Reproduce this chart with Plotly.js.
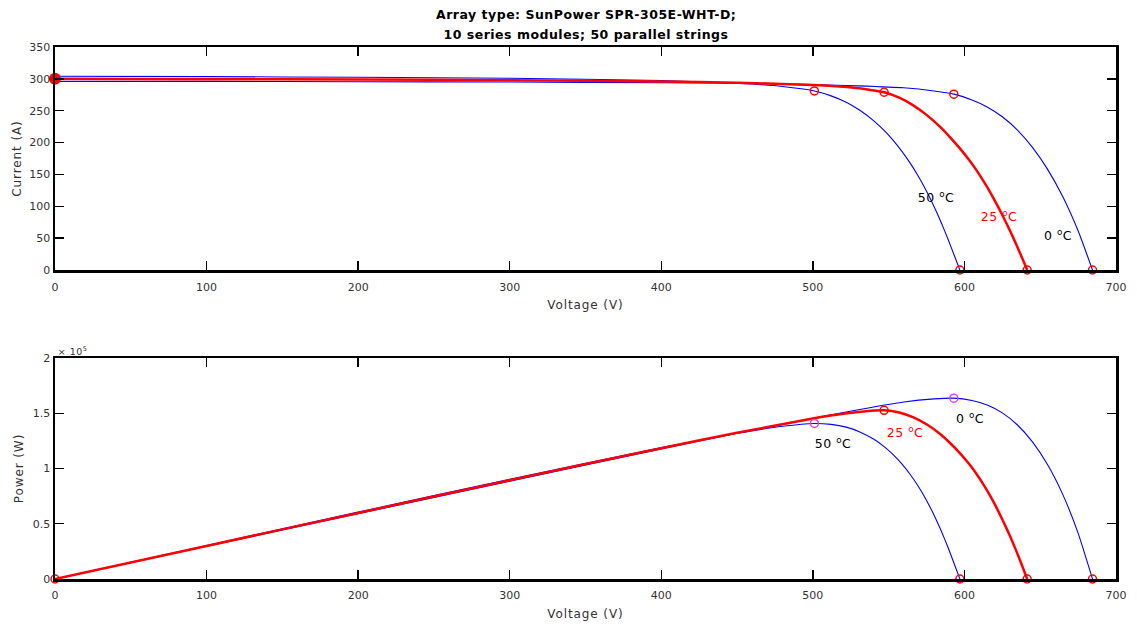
<!DOCTYPE html>
<html>
<head>
<meta charset="utf-8">
<script src="https://cdn.plot.ly/plotly-3.0.1.min.js"></script>
<style>
html,body{margin:0;padding:0;background:#fff;}
#chart{width:1137px;height:630px;}
#chart .annotation-text{letter-spacing:0.5px;}
#chart .xtitle,#chart .ytitle,#chart .x2title,#chart .y2title{letter-spacing:0.9px;}
</style>
</head>
<body>
<div id="chart"></div>
<script>
// I-V data (voltage in V, current in A)
const V50 = [0, 100, 200, 300, 400, 450, 480, 501, 512, 522, 531, 540, 547, 553, 559, 564, 569, 573, 577, 581, 585, 589, 593, 597];
const I50 = [304, 303.5, 302.5, 301, 297.5, 293, 288, 281, 273.3, 263.3, 250.7, 234.5, 219.1, 203.5, 185.5, 168.5, 149.5, 132.7, 114.3, 94.3, 72.7, 49.5, 24.7, 0];

const V25 = [0, 100, 200, 300, 400, 450, 500, 520, 535, 547, 557, 566, 575, 584, 591, 597, 603, 608, 613, 617, 621, 625.5, 630, 634, 638, 641.4];
const I25 = [300, 299.5, 299, 298, 296, 294, 290.5, 287.5, 283.8, 279, 270.5, 258.8, 243.5, 224.6, 207.1, 190.9, 172.9, 156.4, 137.9, 121.9, 104.7, 84, 62, 41.2, 19.2, 0];

const V0 = [0, 100, 200, 300, 400, 450, 500, 530, 560, 580, 593, 605, 615, 625, 635, 645, 655, 665, 675, 684.5];
const I0 = [296, 296, 295.5, 295, 294, 293, 291, 289, 286, 281, 276, 267, 256, 240.5, 219.5, 192, 157.5, 114.5, 61.5, 0];

// maximum power points and open-circuit voltages
const mppV = [501, 547, 593];
const mppI = [281, 279, 276];
const vocV = [597, 641.4, 684.5];
const iscI = 300;

const tempLabels = ['50 <sup>o</sup>C', '25 <sup>o</sup>C', '0 <sup>o</sup>C'];
const labelColors = ['#000000', '#ff0000', '#000000'];
const ivLabelV = [581, 623, 662];
const ivLabelI = [115, 84, 55];
const pLabelV = [513, 561, 604];
const pLabelP = [122800, 133300, 145400];

const xTicks = [0, 100, 200, 300, 400, 500, 600, 700];
const pTickVals = [0, 50000, 100000, 150000, 200000];
const pTickText = ['0', '0.5', '1', '1.5', '2'];

const mul = (v, i) => v.map((x, k) => x * i[k]);

const blue = '#0000ff', red = '#ff0000', mag = '#e040ff';
const spl = {shape: 'spline', smoothing: 0.5};

const traces = [
  {x: V0, y: I0, mode: 'lines', line: Object.assign({color: blue, width: 1.1}, spl), xaxis: 'x', yaxis: 'y', hoverinfo: 'skip'},
  {x: V50, y: I50, mode: 'lines', line: Object.assign({color: blue, width: 1.1}, spl), xaxis: 'x', yaxis: 'y', hoverinfo: 'skip'},
  {x: V25, y: I25, mode: 'lines', line: Object.assign({color: red, width: 2.5}, spl), xaxis: 'x', yaxis: 'y', hoverinfo: 'skip'},
  {x: mppV, y: mppI, mode: 'markers', marker: {symbol: 'circle-open', size: 8, color: red, line: {width: 1.5}}, xaxis: 'x', yaxis: 'y'},
  {x: vocV, y: [0, 0, 0], mode: 'markers', marker: {symbol: 'circle-open', size: 8, color: red, line: {width: 1.5}}, xaxis: 'x', yaxis: 'y', cliponaxis: false},
  {x: [0], y: [iscI], mode: 'markers', marker: {symbol: 'circle', size: 12, color: red}, xaxis: 'x', yaxis: 'y', cliponaxis: false},

  {x: V0, y: mul(V0, I0), mode: 'lines', line: Object.assign({color: blue, width: 1.1}, spl), xaxis: 'x2', yaxis: 'y2', hoverinfo: 'skip'},
  {x: V50, y: mul(V50, I50), mode: 'lines', line: Object.assign({color: blue, width: 1.1}, spl), xaxis: 'x2', yaxis: 'y2', hoverinfo: 'skip'},
  {x: V25, y: mul(V25, I25), mode: 'lines', line: Object.assign({color: red, width: 2.5}, spl), xaxis: 'x2', yaxis: 'y2', hoverinfo: 'skip'},
  {x: mppV, y: mul(mppV, mppI), mode: 'markers', marker: {symbol: 'circle-open', size: 8, color: [mag, red, mag], line: {width: 1.5}}, xaxis: 'x2', yaxis: 'y2'},
  {x: vocV.concat([0]), y: [0, 0, 0, 0], mode: 'markers', marker: {symbol: 'circle-open', size: 8, color: red, line: {width: 1.5}}, xaxis: 'x2', yaxis: 'y2', cliponaxis: false}
];

const fam = '"DejaVu Sans", Verdana, sans-serif';
const font = {family: fam, size: 11, color: '#333333'};
const titleFont = {family: fam, size: 12, color: '#333333'};
const axisBase = {
  showline: true, linecolor: '#000', linewidth: 2.5, mirror: 'ticks',
  ticks: 'inside', ticklen: 9, tickwidth: 1.5, tickcolor: '#000',
  showgrid: false, zeroline: false, tickfont: font, automargin: false
};

const annotations = [
  {text: '<b>Array type: SunPower SPR-305E-WHT-D;</b>', xref: 'paper', yref: 'paper', x: 0.5, y: 1.0602, showarrow: false, font: {family: fam, size: 12.5, color: '#000'}, yanchor: 'middle'},
  {text: '<b>10 series modules; 50 parallel strings</b>', xref: 'paper', yref: 'paper', x: 0.5, y: 1.0226, showarrow: false, font: {family: fam, size: 12.5, color: '#000'}, yanchor: 'middle'},
  {text: '× 10<sup>5</sup>', xref: 'paper', yref: 'paper', x: 0.002, y: 0.4286, xanchor: 'left', yanchor: 'middle', showarrow: false, font: {family: fam, size: 9.5, color: '#333333'}}
];
for (let k = 0; k < 3; k++) {
  annotations.push({text: tempLabels[k], x: ivLabelV[k], y: ivLabelI[k], xref: 'x', yref: 'y', showarrow: false, font: {family: fam, size: 12.5, color: labelColors[k]}});
  annotations.push({text: tempLabels[k], x: pLabelV[k], y: pLabelP[k], xref: 'x2', yref: 'y2', showarrow: false, font: {family: fam, size: 12.5, color: labelColors[k]}});
}

const layout = {
  width: 1137, height: 630,
  margin: {l: 55, r: 21, t: 47, b: 51},
  paper_bgcolor: '#fff', plot_bgcolor: '#fff',
  showlegend: false,
  font: font,
  xaxis: Object.assign({}, axisBase, {domain: [0, 1], range: [0, 700], tickvals: xTicks, anchor: 'y', ticklabelstandoff: 5,
    title: {text: 'Voltage (V)', font: titleFont, standoff: 8}}),
  yaxis: Object.assign({}, axisBase, {domain: [0.5808, 1], range: [0, 350], dtick: 50, anchor: 'x',
    title: {text: 'Current (A)', font: titleFont, standoff: 5}}),
  xaxis2: Object.assign({}, axisBase, {domain: [0, 1], range: [0, 700], tickvals: xTicks, anchor: 'y2', ticklabelstandoff: 4,
    title: {text: 'Voltage (V)', font: titleFont, standoff: 9}}),
  yaxis2: Object.assign({}, axisBase, {domain: [0, 0.4154], range: [0, 200000], tickvals: pTickVals, ticktext: pTickText, anchor: 'x2',
    title: {text: 'Power (W)', font: titleFont, standoff: 7}}),
  annotations: annotations
};

Plotly.newPlot('chart', traces, layout, {staticPlot: true});
</script>
</body>
</html>
